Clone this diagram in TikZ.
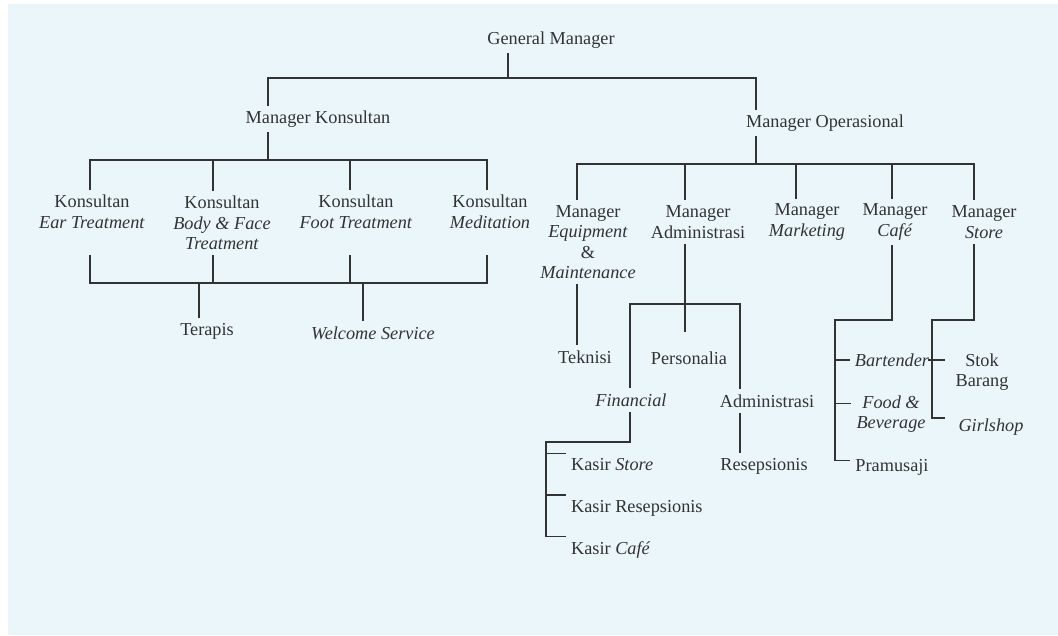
\documentclass[tikz,border=0pt]{standalone}
\usepackage{fontspec}
\setmainfont{Liberation Serif}
\usepackage{tikz}
\usetikzlibrary{positioning}
\definecolor{paper}{HTML}{EBF6FB}
\definecolor{ink}{HTML}{333333}

\begin{document}
\begin{tikzpicture}[x=0.75pt, y=-0.75pt, color=ink, line width=1.1pt,
    every node/.style={font=\fontsize{13.7}{15.4}\selectfont, align=center},
    lft/.style={anchor=west, align=left}]

    \useasboundingbox (0, 0) rectangle (1058, 636);
    \fill[white] (0, 0) rectangle (1058, 636);
    \fill[paper] (8, 4) rectangle (1058, 635);

    \node (gm) at (551, 40) {General Manager};
    \node (mk) at (318, 119) {Manager Konsultan};
    \node (mo) at (825, 123) {Manager Operasional};

    \node (ek) at (92, 212) {Konsultan\\\textit{Ear Treatment}};
    \node (bf) at (222, 223) {Konsultan\\\textit{Body \& Face}\\\textit{Treatment}};
    \node (ft) at (356, 212) {Konsultan\\\textit{Foot Treatment}};
    \node (md) at (490, 212) {Konsultan\\\textit{Meditation}};
    \node (tp) at (207, 331) {Terapis};
    \node (ws) at (373, 333) {\textit{Welcome Service}};

    \node (eq) at (588, 242) {Manager\\\textit{Equipment}\\\&\\\textit{Maintenance}};
    \node (ma) at (698, 222) {Manager\\Administrasi};
    \node (mm) at (807, 222) {Manager\\\textit{Marketing}};
    \node (mc) at (895, 222) {Manager\\\textit{Café}};
    \node (ms) at (984, 222) {Manager\\\textit{Store}};

    \node (tk) at (585, 357) {Teknisi};
    \node (ps) at (689, 358) {Personalia};
    \node (fin) at (631, 400) {\textit{Financial}};
    \node (adm) at (767, 401) {Administrasi};
    \node (rs) at (764, 466) {Resepsionis};
    \node[lft] (ks) at (566, 465) {Kasir \textit{Store}};
    \node[lft] (kr) at (566, 508) {Kasir Resepsionis};
    \node[lft] (kc) at (566, 550) {Kasir \textit{Café}};

    \node (bt) at (892, 360) {\textit{Bartender}};
    \node (fb) at (891, 414) {\textit{Food \&}\\\textit{Beverage}};
    \node (pm) at (892, 467) {Pramusaji};
    \node (sb) at (982, 372) {Stok\\Barang};
    \node (gs) at (991, 427) {\textit{Girlshop}};

    \coordinate (b0) at (508, 78);
    \coordinate (b0L) at (268, 78);
    \coordinate (b0R) at (756, 78);
    \draw (gm.south -| b0) -- (b0);
    \draw (mk.north -| b0L) |- (b0R) -- (mo.north -| b0R);

    \coordinate (k1) at (90, 160);
    \coordinate (k2) at (213, 160);
    \coordinate (k3) at (350, 160);
    \coordinate (k4) at (487, 160);
    \draw (mk.south -| b0L) -- (b0L |- k1);
    \draw (ek.north -| k1) -- (k1) -- (k4) -- (k4 |- md.north);
    \draw (k2) -- (k2 |- bf.north);
    \draw (k3) -- (k3 |- ft.north);

    \coordinate (t1) at (90, 283);
    \coordinate (t2) at (213, 283);
    \coordinate (t3) at (350, 283);
    \coordinate (t4) at (487, 283);
    \coordinate (t5) at (199, 283);
    \coordinate (t6) at (363, 283);
    \draw (t1 |- bf.south) -- (t1) -- (t4) -- (t4 |- bf.south);
    \draw (t2 |- bf.south) -- (t2);
    \draw (t3 |- bf.south) -- (t3);
    \draw (t5) -- (t5 |- tp.north);
    \draw (t6) -- (t6 |- ws.north);

    \coordinate (m1) at (577, 164);
    \coordinate (m2) at (685, 164);
    \coordinate (m3) at (796, 164);
    \coordinate (m4) at (892, 164);
    \coordinate (m5) at (974, 164);
    \draw (mo.south -| b0R) -- (b0R |- m1);
    \draw (eq.north -| m1) -- (m1) -- (m5) -- (m5 |- ms.north);
    \draw (m2) -- (m2 |- ma.north);
    \draw (m3) -- (m3 |- mm.north);
    \draw (m4) -- (m4 |- mc.north);
    \draw (m1 |- eq.south) -- (m1 |- tk.north);

    \coordinate (a0) at (685, 332);
    \coordinate (a1) at (630, 304);
    \coordinate (a2) at (740, 304);
    \draw (ma.south -| a0) -- (a0);
    \draw (fin.north -| a1) |- (a2) -- (adm.north -| a2);
    \draw (adm.south -| a2) -- (a2 |- rs.north);

    \coordinate (f0) at (546, 442);
    \draw (fin.south -| a1) |- (f0) -- (f0 |- kc.north west) -- (kc.north west);
    \draw (f0 |- ks.north west) -- (ks.north west);
    \draw (f0 |- kr.north west) -- (kr.north west);

    \coordinate (c0) at (835, 320);
    \coordinate (fbt) at ([yshift=8pt]fb.west);
    \coordinate (pmt) at ([yshift=5pt]pm.west);
    \draw (mc.south -| m4) |- (c0) -- (c0 |- pmt) -- (pmt);
    \draw (c0 |- bt.west) -- (bt.west);
    \draw (c0 |- fbt) -- (fbt);

    \coordinate (s0) at (932, 320);
    \coordinate (s1) at (945, 360);
    \coordinate (s1a) at (928, 360);
    \coordinate (s2) at (945, 418);
    \draw (ms.south -| m5) |- (s0) |- (s2);
    \draw (s1a) -- (s1);
\end{tikzpicture}
\end{document}
